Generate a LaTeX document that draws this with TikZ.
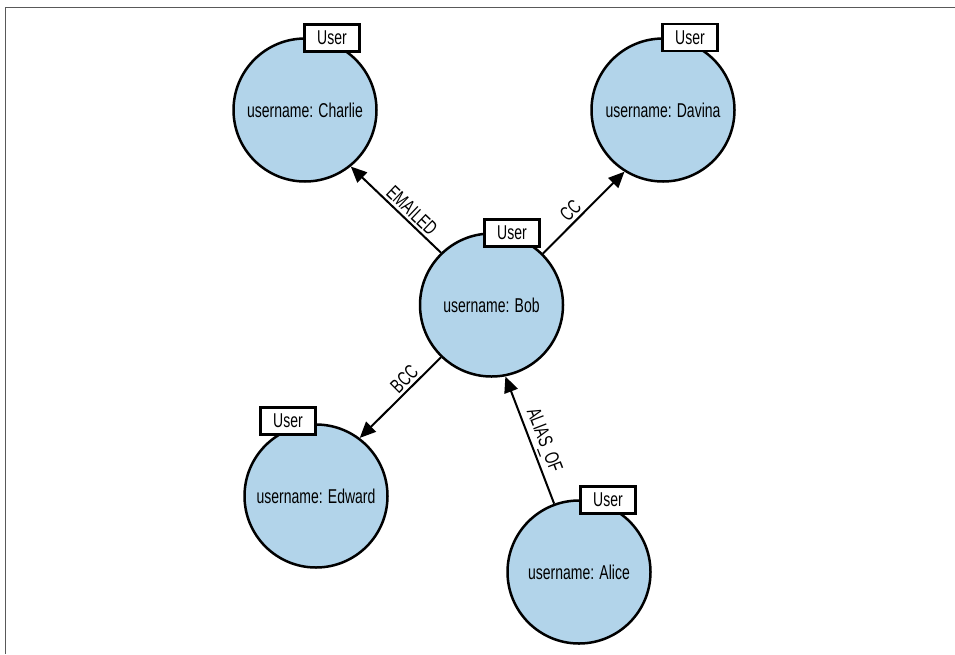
\documentclass[tikz,border=0pt]{standalone}
\usepackage{fontspec}
\setmainfont{Liberation Sans}[FakeStretch=0.7]
\usetikzlibrary{arrows.meta}
\definecolor{userblue}{RGB}{178,212,234}

\begin{document}
\begin{tikzpicture}[x=1pt, y=-1pt, font=\fontsize{20}{24}\selectfont,
  user/.style={circle, draw, line width=2.5pt, fill=userblue, minimum size=143pt, inner sep=0pt},
  tag/.style={rectangle, draw, line width=2.5pt, fill=white, minimum width=55pt, minimum height=27pt, inner sep=0pt},
  rel/.style={line width=2pt, -{Triangle[length=16pt,width=14pt]}},
  lbl/.style={sloped, above, inner sep=2.5pt}]
  \useasboundingbox (0,0) rectangle (955,654);

  % CADRE
  \draw[black!65, line width=1pt] (955,7) -- (5,7) -- (5,654);

  % NOEUDS
  \node[user] (C) at (305,110) {username: Charlie};
  \node[user] (D) at (663,110) {username: Davina};
  \node[user] (B) at (491.5,305) {username: Bob};
  \node[user] (E) at (316,496) {username: Edward};
  \node[user] (A) at (579,572) {username: Alice};

  % ETIQUETTES
  \node[tag] (UC) at (332,38) {User};
  \node[tag] (UD) at (690,37.5) {User};
  \node[tag] (UB) at (512,233) {User};
  \node[tag] (UE) at (288,421) {User};
  \node[tag] (UA) at (608,500) {User};

  % RELATIONS
  \draw[rel] (B.134) -- node[lbl, pos=0.4] {EMAILED} (C.-51);
  \draw[rel] (B.45.8) -- node[lbl, pos=0.43] {CC} (D.-122.6);
  \draw[rel] (B.-134) -- node[lbl, pos=0.36] {BCC} (E.53);
  \draw[rel] (A.110.6) -- node[lbl, pos=0.46] {ALIAS\_OF} (B.-79.5);
\end{tikzpicture}
\end{document}
